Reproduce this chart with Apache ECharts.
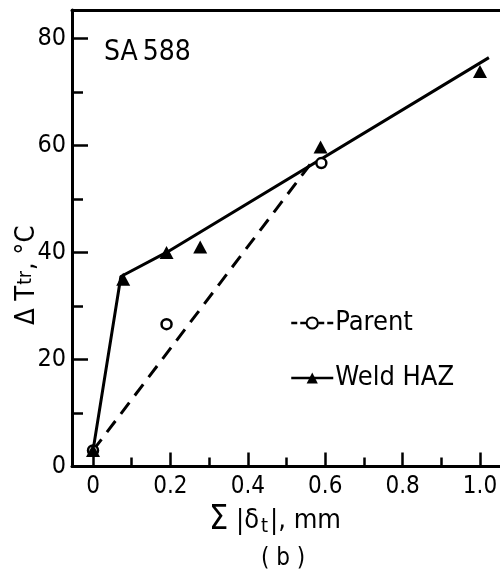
<!DOCTYPE html>
<html><head><meta charset="utf-8">
<script src="https://cdn.jsdelivr.net/npm/echarts@6/dist/echarts.min.js"></script>
<style>html,body{margin:0;padding:0;background:#fff}#c{width:500px;height:569px}</style>
</head><body><div id="c"></div>
<script>
const FONT = '"DejaVu Sans Condensed","DejaVu Sans",sans-serif';
// measured points
const parentX = [0, 0.19, 0.59];
const parentY = [3, 26.6, 56.7];
const weldX = [0, 0.078, 0.19, 0.277, 0.588, 1.0];
const weldY = [3, 35, 40, 41, 59.7, 73.8];
// drawn trend lines
const parentFitX = [0, 0.567];
const parentFitY = [3, 57];
const weldFitX = [0, 0.072, 0.19, 1.023];
const weldFitY = [3, 35.5, 40, 76.4];
// ticks
const xMajorTicks = [0, 0.2, 0.4, 0.6, 0.8, 1.0];
const xTickLabels = ['0', '0.2', '0.4', '0.6', '0.8', '1.0'];
const xMinorTicks = [0.1, 0.3, 0.5, 0.7, 0.9];
const yMajorTicks = [0, 20, 40, 60, 80];
const yTickLabels = ['0', '20', '40', '60', '80'];
const yMinorTicks = [10, 30, 50, 70];

const zip = (xs, ys) => xs.map((x, i) => [x, ys[i]]);
const lookup = (vals, labels) => v => {
  for (let i = 0; i < vals.length; i++) if (Math.abs(vals[i] - v) < 1e-6) return labels[i];
  return '';
};
const XMIN = -0.0543, XMAX = 1.0517, YMIN = 0, YMAX = 85.3;
const black = '#000';

const chart = echarts.init(document.getElementById('c'), null, {renderer: 'canvas'});
chart.setOption({
  animation: false,
  backgroundColor: '#fff',
  textStyle: {fontFamily: FONT, color: black},
  title: [
    {text: 'SA\u2009588', left: 104, top: 39, padding: 0, textStyle: {fontFamily: FONT, fontSize: 28, fontWeight: 'normal', color: black}},
    {text: '( b )', left: 256, top: 542, textStyle: {fontFamily: FONT, fontSize: 24, fontWeight: 'normal', color: black}}
  ],
  grid: {left: 72, right: 0, top: 10, bottom: 102.5, containLabel: false, outerBoundsMode: 'none'},
  legend: {
    orient: 'vertical', left: 285, top: 304, itemWidth: 42, itemHeight: 14, itemGap: 27,
    selectedMode: false,
    textStyle: {fontFamily: FONT, fontSize: 27, lineHeight: 28, color: black, padding: [0, 0, 0, -3]},
    data: [
      {name: 'Parent', lineStyle: {type: [6, 3], width: 2.5}},
      {name: 'Weld HAZ', lineStyle: {type: 'solid', width: 2.5}}
    ]
  },
  xAxis: [
    {
      type: 'value', min: XMIN, max: XMAX, position: 'bottom',
      axisLine: {show: true, onZero: false, lineStyle: {color: black, width: 3}},
      axisTick: {show: true, inside: true, length: 14, customValues: xMajorTicks, lineStyle: {color: black, width: 2.5}},
      axisLabel: {show: true, margin: 8, customValues: xMajorTicks, formatter: lookup(xMajorTicks, xTickLabels),
        fontFamily: FONT, fontSize: 24, color: black},
      splitLine: {show: false},
      name: '{g|Σ}{a| |δ}{s|t}{a||, mm}', nameLocation: 'middle', nameGap: 37, nameMoveOverlap: false,
      nameTextStyle: {padding: [0, 22, 0, 0], rich: {
        g: {fontFamily: FONT, fontSize: 34, color: black},
        a: {fontFamily: FONT, fontSize: 27, color: black},
        s: {fontFamily: FONT, fontSize: 20, color: black, padding: [12, 2, 0, 2]}
      }}
    },
    {
      type: 'value', min: XMIN, max: XMAX, position: 'bottom',
      axisLine: {show: false, onZero: false},
      axisTick: {show: true, inside: true, length: 9, customValues: xMinorTicks, lineStyle: {color: black, width: 2.5}},
      axisLabel: {show: false}, splitLine: {show: false}
    },
    {
      type: 'value', min: XMIN, max: XMAX, position: 'top',
      axisLine: {show: true, onZero: false, lineStyle: {color: black, width: 3}},
      axisTick: {show: false}, axisLabel: {show: false}, splitLine: {show: false}
    }
  ],
  yAxis: [
    {
      type: 'value', min: YMIN, max: YMAX, position: 'left',
      axisLine: {show: true, onZero: false, lineStyle: {color: black, width: 3}},
      axisTick: {show: true, inside: true, length: 16, customValues: yMajorTicks, lineStyle: {color: black, width: 2.5}},
      axisLabel: {show: true, margin: 6, customValues: yMajorTicks, formatter: lookup(yMajorTicks, yTickLabels),
        fontFamily: FONT, fontSize: 25, color: black},
      splitLine: {show: false},
      name: '{a|Δ T}{s|tr}{a|, °C}', nameLocation: 'middle', nameGap: 32, nameMoveOverlap: false,
      nameTextStyle: {padding: [0, 74, 0, 0], rich: {
        a: {fontFamily: FONT, fontSize: 27, color: black},
        s: {fontFamily: FONT, fontSize: 19, color: black, padding: [0, 1, 0, 1]}
      }}
    },
    {
      type: 'value', min: YMIN, max: YMAX, position: 'left',
      axisLine: {show: false, onZero: false},
      axisTick: {show: true, inside: true, length: 11, customValues: yMinorTicks, lineStyle: {color: black, width: 2.5}},
      axisLabel: {show: false}, splitLine: {show: false}
    }
  ],
  series: [
    {
      name: 'Parent', type: 'line', xAxisIndex: 0, yAxisIndex: 0,
      data: zip(parentFitX, parentFitY), showSymbol: false, symbol: 'emptyCircle',
      lineStyle: {color: black, width: 3, type: [14, 9]}, itemStyle: {color: black},
      silent: true, z: 2
    },
    {
      name: 'Weld HAZ', type: 'line', xAxisIndex: 0, yAxisIndex: 0,
      data: zip(weldFitX, weldFitY), showSymbol: false, symbol: 'triangle',
      lineStyle: {color: black, width: 3, type: 'solid'}, itemStyle: {color: black},
      silent: true, z: 2
    },
    {
      name: 'Parent data', type: 'scatter', xAxisIndex: 0, yAxisIndex: 0,
      data: zip(parentX, parentY), symbol: 'circle', symbolSize: 10,
      itemStyle: {color: '#fff', borderColor: black, borderWidth: 2.5, opacity: 1}, z: 3
    },
    {
      name: 'Weld HAZ data', type: 'scatter', xAxisIndex: 0, yAxisIndex: 0,
      data: zip(weldX, weldY), symbol: 'triangle', symbolSize: [14, 13],
      itemStyle: {color: black, opacity: 1}, z: 4
    }
  ]
});
</script></body></html>
